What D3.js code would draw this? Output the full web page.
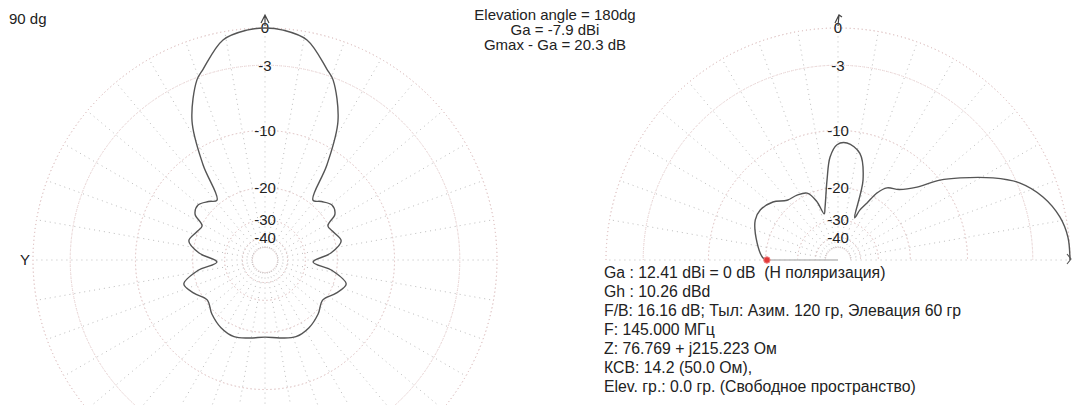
<!DOCTYPE html>
<html>
<head>
<meta charset="utf-8">
<script src="https://cdn.jsdelivr.net/npm/d3@7"></script>
<style>
  html, body { margin: 0; padding: 0; background: #fff; }
  svg { display: block; font-family: "Liberation Sans", Arial, sans-serif; }
  svg text { white-space: pre; }
</style>
</head>
<body>
<svg id="chart" width="1075" height="405"></svg>
<script>
// Horizontal (azimuth) pattern, one half; mirrored for the other side.
// Azimuth in degrees from the forward direction, gain in dB relative to Gmax.
const azimuthDeg = [0, 4.5, 10.8, 18, 20.7, 27.7, 33.1, 38.7, 44, 50.6, 56.7, 61.6, 68, 76, 84, 92.4, 99, 106.5, 115, 124.6, 135.5, 147, 158, 169, 180];
const azimuthDb  = [0, -0.1, -0.6, -2.5, -3.2, -6.7, -12.3, -19.0, -18.0, -16.9, -17.5, -20.2, -19.6, -18.6, -21.5, -27.0, -21.0, -17.3, -18.6, -20.5, -19.2, -18.1, -17.7, -18.4, -18.9];

// Vertical (elevation) pattern, 0..180 degrees above the horizon.
const elevationDeg = [0, 5.7, 11, 17.1, 22.9, 27.9, 33.9, 38.1, 42.7, 49, 55.8, 59.8, 63, 66.3, 68.5, 72.6, 78.4, 85.6, 90.5, 94.4, 97.8, 104, 106.7, 110, 114.8, 122.2, 130.4, 138.3, 147.3, 154.3, 168, 178.5, 180];
const elevationDb  = [0, -0.07, -0.45, -1.35, -2.75, -4.8, -7.8, -10.0, -13.2, -15.6, -16.8, -18.8, -22.1, -24.8, -28, -17.5, -13.0, -11.7, -12.0, -13.9, -18.1, -25.1, -27, -22.5, -19.7, -19.0, -18.6, -16.8, -15.8, -15.9, -17.7, -19.4, -20.3];

// Grid rings and their captions
const ringDb = [0, -3, -10, -20, -30, -40, -50];
const ringLabels = ["0", "-3", "-10", "-20", "-30", "-40"];
const spokeStepDeg = 10;

// Current elevation direction (marker)
const markerElevDeg = 180;
const markerDb = -20.3;

const headerLines = ["Elevation angle = 180dg", "Ga = -7.9 dBi", "Gmax - Ga = 20.3 dB"];
const infoLines = [
  "Ga : 12.41 dBi = 0 dB  (H поляризация)",
  "Gh : 10.26 dBd",
  "F/B: 16.16 dB; Тыл: Азим. 120 гр, Элевация 60 гр",
  "F: 145.000 МГц",
  "Z: 76.769 + j215.223 Ом",
  "КСВ: 14.2 (50.0 Ом),",
  "Elev. гр.: 0.0 гр. (Свободное пространство)"
];

const svg = d3.select("#chart");
const R = 232;
const rad = Math.PI / 180;
const FS = 15;

// ARRL-style log-periodic radius: r/R = 0.89^(-dB/2) == p^k, p = power ratio
const k = (-Math.log(0.89) / 2) / (Math.LN10 / 10);
const rScale = d3.scalePow().exponent(k).domain([0, 1]).range([0, R]);
const r = db => rScale(Math.pow(10, db / 10));

function grid(g, half) {
  const ringCol = "#e0c4c4", spokeCol = "#bcbcbc";
  const a0 = half ? -90 : 0, a1 = half ? 90 : 360;
  const arc = d3.arc().startAngle(a0 * rad).endAngle(a1 * rad);
  g.selectAll("path.ring").data(ringDb).join("path")
    .attr("class", "ring")
    .attr("d", d => arc({ innerRadius: r(d), outerRadius: r(d) }))
    .attr("fill", "none").attr("stroke", ringCol).attr("stroke-width", 1)
    .attr("stroke-dasharray", "1,3");
  const angles = d3.range(half ? -90 : 0, half ? 90 + 0.1 : 360, spokeStepDeg);
  g.selectAll("line.spoke").data(angles).join("line")
    .attr("class", "spoke")
    .attr("x1", a => r(-50) * Math.sin(a * rad)).attr("y1", a => -r(-50) * Math.cos(a * rad))
    .attr("x2", a => R * Math.sin(a * rad)).attr("y2", a => -R * Math.cos(a * rad))
    .attr("stroke", spokeCol).attr("stroke-width", 1).attr("stroke-dasharray", "1,4");
  g.selectAll("text.rl").data(ringLabels).join("text")
    .attr("class", "rl")
    .attr("x", 0).attr("y", (d, i) => -r(ringDb[i]) + 5.4)
    .attr("text-anchor", "middle").attr("font-size", FS).attr("fill", "#222")
    .text(d => d);
}

// ---- Left: azimuth pattern ----
const left = svg.append("g").attr("transform", "translate(265,260)");
grid(left, false);
const azPts = azimuthDeg.map((a, i) => [a, azimuthDb[i]]);
const azFull = azPts.concat(azPts.slice(1, -1).reverse().map(([a, d]) => [360 - a, d]));
left.append("path")
  .attr("d", d3.lineRadial().angle(d => d[0] * rad).radius(d => r(d[1])).curve(d3.curveCatmullRomClosed.alpha(0.5))(azFull))
  .attr("fill", "none").attr("stroke", "#555").attr("stroke-width", 1.4);
left.append("path").attr("d", "M-4,-237 L0,-245 L4,-237 M0,-245 L0,-234")
  .attr("fill", "none").attr("stroke", "#444").attr("stroke-width", 1.2);

// ---- Right: elevation pattern ----
const right = svg.append("g").attr("transform", "translate(838,260)");
grid(right, true);
right.append("line")
  .attr("x1", 0).attr("y1", 0)
  .attr("x2", r(markerDb) * Math.cos(markerElevDeg * rad)).attr("y2", -r(markerDb) * Math.sin(markerElevDeg * rad))
  .attr("stroke", "#bdbdbd").attr("stroke-width", 1.5);
const elPts = elevationDeg.map((a, i) => [a, elevationDb[i]]);
right.append("path")
  .attr("d", d3.lineRadial().angle(d => (90 - d[0]) * rad).radius(d => r(d[1])).curve(d3.curveCatmullRom.alpha(0.5))(elPts))
  .attr("fill", "none").attr("stroke", "#555").attr("stroke-width", 1.4);
right.append("circle")
  .attr("cx", r(markerDb) * Math.cos(markerElevDeg * rad)).attr("cy", -r(markerDb) * Math.sin(markerElevDeg * rad))
  .attr("r", 3.2).attr("fill", "#e23a3a").attr("stroke", "#f08080");
right.append("path").attr("d", "M-3,-237 L1,-245 L4,-243 M1,-245 L0,-234")
  .attr("fill", "none").attr("stroke", "#444").attr("stroke-width", 1.2);
right.append("path").attr("d", `M${R - 3},-6 L${R + 1},-1 L${R - 3},4`)
  .attr("fill", "none").attr("stroke", "#555").attr("stroke-width", 1.1);

// ---- Text ----
svg.append("text").attr("x", 9).attr("y", 23.5).attr("font-size", FS).attr("fill", "#222").text("90 dg");
svg.append("text").attr("x", 20).attr("y", 265).attr("font-size", FS).attr("fill", "#222").text("Y");
svg.selectAll("text.hdr").data(headerLines).join("text").attr("class", "hdr")
  .attr("x", 555).attr("y", (d, i) => 19.5 + i * 15)
  .attr("text-anchor", "middle").attr("font-size", FS).attr("fill", "#222").text(d => d);
svg.selectAll("text.info").data(infoLines).join("text").attr("class", "info")
  .attr("x", 604).attr("y", (d, i) => 278 + i * 19)
  .attr("font-size", 15.8).attr("fill", "#222").text(d => d);
</script>
</body>
</html>
